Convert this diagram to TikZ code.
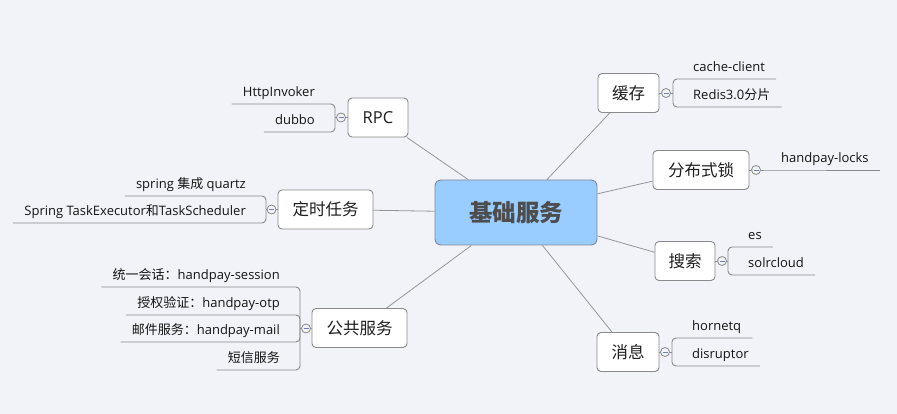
\documentclass[tikz,border=0pt]{standalone}
\usepackage{fontspec}
\setmainfont{Open Sans}
\newfontfamily\cjk{Noto Sans CJK SC}
\newcommand\zh[1]{{\cjk #1}}
\definecolor{bgcol}{RGB}{242,243,249}
\definecolor{rootfill}{RGB}{153,204,255}
\definecolor{rootline}{RGB}{128,136,150}
\definecolor{roottext}{RGB}{77,77,77}
\definecolor{boxline}{RGB}{138,138,138}
\definecolor{spokecol}{RGB}{150,150,150}
\definecolor{twigcol}{RGB}{136,136,136}
\definecolor{minuscol}{RGB}{110,130,180}
\definecolor{leaftext}{RGB}{20,20,20}
\definecolor{branchtext}{RGB}{30,30,30}
\begin{document}
\begin{tikzpicture}[x=1pt,y=-1pt,
  root/.style={draw=rootline, fill=rootfill, rounded corners=6pt, line width=0.9pt,
    inner sep=0pt, minimum width=162pt, minimum height=65pt,
    font=\cjk\bfseries\fontsize{23.5}{26}\selectfont, text=roottext},
  branch/.style={draw=boxline, fill=white, rounded corners=4pt, line width=0.9pt,
    inner sep=0pt, minimum height=39pt, font=\fontsize{16.5}{19}\selectfont, text=branchtext},
  leaf/.style={inner xsep=11pt, inner ysep=0pt, text height=10pt, text depth=7.5pt,
    font=\fontsize{13}{15}\selectfont, text=leaftext},
  toggle/.style={circle, draw=twigcol, fill=bgcol, minimum size=9pt, inner sep=0pt, line width=0.8pt},
  spoke/.style={draw=spokecol, line width=0.8pt},
  twig/.style={draw=twigcol, line width=0.9pt, rounded corners=4pt},
  minusline/.style={draw=minuscol, line width=0.8pt}]
\useasboundingbox (0,0) rectangle (897,414);
\fill[bgcol] (0,0) rectangle (897,414);

% root and branches
\node[root] (root) at (516,212.5) {基础服务};
\node[branch, minimum width=60pt] (rpc) at (378,117.5) {RPC};
\node[branch, minimum width=95pt] (timer) at (325.5,209.5) {\zh{定时任务}};
\node[branch, minimum width=95pt] (common) at (359.5,328) {\zh{公共服务}};
\node[branch, minimum width=61pt] (cache) at (628.5,93) {\zh{缓存}};
\node[branch, minimum width=96pt] (lock) at (701,170) {\zh{分布式锁}};
\node[branch, minimum width=60pt] (search) at (685,261) {\zh{搜索}};
\node[branch, minimum width=62pt] (msg) at (628,352) {\zh{消息}};

\foreach \b in {rpc,timer,common,cache,lock,search,msg}
  \draw[spoke] (root) -- (\b);

% toggles
\node[toggle] (trpc) at (341,117.5) {};
\node[toggle] (ttimer) at (271.5,209.5) {};
\node[toggle] (tcommon) at (306,328.5) {};
\node[toggle] (tcache) at (666,93) {};
\node[toggle] (tlock) at (756,170) {};
\node[toggle] (tsearch) at (722,261) {};
\node[toggle] (tmsg) at (665,352) {};
\foreach \t in {trpc,ttimer,tcommon,tcache,tlock,tsearch,tmsg}
  \draw[minusline] ([xshift=-2.5pt]\t.center) -- ([xshift=2.5pt]\t.center);

% bracket points
\coordinate (brpc) at (335,117.5);
\coordinate (btimer) at (266,209.5);
\coordinate (bcommon) at (300,328.5);
\coordinate (bcache) at (673,93);
\coordinate (bsearch) at (728,261);
\coordinate (bmsg) at (672,352);

\draw[twig] (rpc) -- (trpc) -- (brpc);
\draw[twig] (timer) -- (ttimer) -- (btimer);
\draw[twig] (common) -- (tcommon) -- (bcommon);
\draw[twig] (cache) -- (tcache) -- (bcache);
\draw[twig] (lock) -- (tlock);
\draw[twig] (search) -- (tsearch) -- (bsearch);
\draw[twig] (msg) -- (tmsg) -- (bmsg);

% left leaves
\node[leaf, anchor=south east] (r1) at (326,104) {HttpInvoker};
\node[leaf, anchor=south east] (r2) at (326,132) {dubbo};
\node[leaf, anchor=south east] (d1) at (257,196) {spring \zh{集成} quartz};
\node[leaf, anchor=south east] (d2) at (257,223) {Spring TaskExecutor\zh{和}TaskScheduler};
\node[leaf, anchor=south east] (g1) at (291,287) {\zh{统一会话：}handpay-session};
\node[leaf, anchor=south east] (g2) at (291,315) {\zh{授权验证：}handpay-otp};
\node[leaf, anchor=south east] (g3) at (291,342) {\zh{邮件服务：}handpay-mail};
\node[leaf, anchor=south east] (g4) at (291,370) {\zh{短信服务}};

\foreach \n/\b in {r1/brpc,r2/brpc,d1/btimer,d2/btimer,g1/bcommon,g2/bcommon,g3/bcommon,g4/bcommon}
  \draw[twig] (\n.south west) -- (\n.south west -| \b) -- (\b);

% right leaves
\node[leaf, anchor=south west] (c1) at (682,79) {cache-client};
\node[leaf, anchor=south west] (c2) at (682,107) {Redis3.0\zh{分片}};
\node[leaf, anchor=south west] (k1) at (770,170) {handpay-locks};
\node[leaf, anchor=south west] (s1) at (737,247) {es};
\node[leaf, anchor=south west] (s2) at (737,275) {solrcloud};
\node[leaf, anchor=south west] (m1) at (681,338) {hornetq};
\node[leaf, anchor=south west] (m2) at (681,366) {disruptor};

\foreach \n/\b in {c1/bcache,c2/bcache,s1/bsearch,s2/bsearch,m1/bmsg,m2/bmsg}
  \draw[twig] (\n.south east) -- (\n.south east -| \b) -- (\b);
\draw[twig] (tlock) -- (k1.south west) -- (k1.south east);
\end{tikzpicture}
\end{document}
